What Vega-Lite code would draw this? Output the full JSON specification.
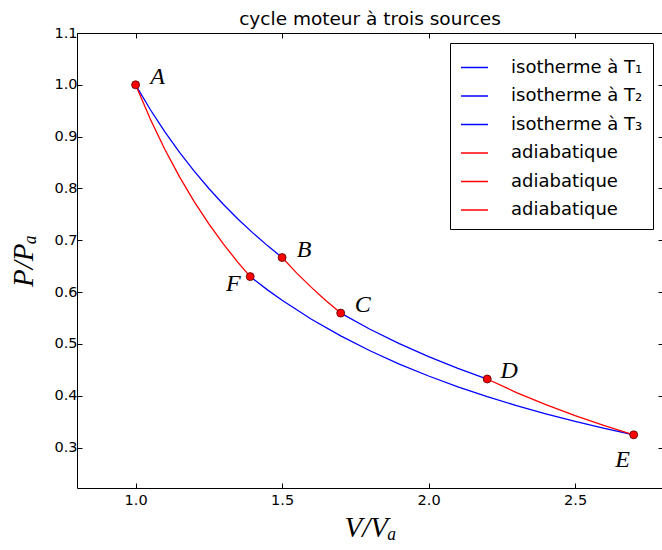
{
  "$schema": "https://vega.github.io/schema/vega-lite/v6.json",
  "autosize": {"type": "none"},
  "padding": {"left": 77, "top": 33, "right": 0, "bottom": 62},
  "width": 586,
  "height": 455,
  "background": "white",
  "title": {"text": "cycle moteur à trois sources", "font": "DejaVu Sans", "fontSize": 18.5, "fontWeight": "normal", "color": "black", "offset": -3, "anchor": "middle"},
  "config": {
    "view": {"stroke": "black", "strokeWidth": 1},
    "axis": {"grid": false, "domain": false, "tickColor": "black", "tickSize": -5, "labelFont": "DejaVu Sans", "labelFontSize": 14.5, "labelColor": "black", "titleFont": "Liberation Serif", "titleFontStyle": "italic", "titleFontWeight": "normal", "titleFontSize": 29, "titleColor": "black"},
    "legend": {"orient": "top-right", "offset": 10, "strokeColor": "black", "fillColor": "white", "padding": 10, "cornerRadius": 0, "symbolType": "stroke", "symbolSize": 729, "symbolStrokeWidth": 1.5, "labelFont": "DejaVu Sans", "labelFontSize": 18, "labelColor": "black", "labelOffset": 22, "rowPadding": 4.5, "labelLimit": 300}
  },
  "datasets": {
    "curves": [
      {"courbe": "isotherme à T₁", "V": 1.0, "P": 1.0},
      {"courbe": "isotherme à T₁", "V": 1.05, "P": 0.9524},
      {"courbe": "isotherme à T₁", "V": 1.1, "P": 0.9091},
      {"courbe": "isotherme à T₁", "V": 1.15, "P": 0.8696},
      {"courbe": "isotherme à T₁", "V": 1.2, "P": 0.8333},
      {"courbe": "isotherme à T₁", "V": 1.25, "P": 0.8},
      {"courbe": "isotherme à T₁", "V": 1.3, "P": 0.7692},
      {"courbe": "isotherme à T₁", "V": 1.35, "P": 0.7407},
      {"courbe": "isotherme à T₁", "V": 1.4, "P": 0.7143},
      {"courbe": "isotherme à T₁", "V": 1.45, "P": 0.6897},
      {"courbe": "isotherme à T₁", "V": 1.5, "P": 0.6667},
      {"courbe": "isotherme à T₂", "V": 1.7, "P": 0.5595},
      {"courbe": "isotherme à T₂", "V": 1.8, "P": 0.5284},
      {"courbe": "isotherme à T₂", "V": 1.9, "P": 0.5006},
      {"courbe": "isotherme à T₂", "V": 2.0, "P": 0.4756},
      {"courbe": "isotherme à T₂", "V": 2.1, "P": 0.4529},
      {"courbe": "isotherme à T₂", "V": 2.2, "P": 0.4323},
      {"courbe": "isotherme à T₃", "V": 1.3912, "P": 0.6299},
      {"courbe": "isotherme à T₃", "V": 1.45, "P": 0.6043},
      {"courbe": "isotherme à T₃", "V": 1.5, "P": 0.5842},
      {"courbe": "isotherme à T₃", "V": 1.6, "P": 0.5477},
      {"courbe": "isotherme à T₃", "V": 1.7, "P": 0.5155},
      {"courbe": "isotherme à T₃", "V": 1.8, "P": 0.4868},
      {"courbe": "isotherme à T₃", "V": 1.9, "P": 0.4612},
      {"courbe": "isotherme à T₃", "V": 2.0, "P": 0.4381},
      {"courbe": "isotherme à T₃", "V": 2.1, "P": 0.4173},
      {"courbe": "isotherme à T₃", "V": 2.2, "P": 0.3983},
      {"courbe": "isotherme à T₃", "V": 2.3, "P": 0.381},
      {"courbe": "isotherme à T₃", "V": 2.4, "P": 0.3651},
      {"courbe": "isotherme à T₃", "V": 2.5, "P": 0.3505},
      {"courbe": "isotherme à T₃", "V": 2.6, "P": 0.337},
      {"courbe": "isotherme à T₃", "V": 2.7, "P": 0.3246},
      {"courbe": "adiabatique (BC)", "V": 1.5, "P": 0.6667},
      {"courbe": "adiabatique (BC)", "V": 1.55, "P": 0.6367},
      {"courbe": "adiabatique (BC)", "V": 1.6, "P": 0.6091},
      {"courbe": "adiabatique (BC)", "V": 1.65, "P": 0.5834},
      {"courbe": "adiabatique (BC)", "V": 1.7, "P": 0.5595},
      {"courbe": "adiabatique (DE)", "V": 2.2, "P": 0.4323},
      {"courbe": "adiabatique (DE)", "V": 2.3, "P": 0.4062},
      {"courbe": "adiabatique (DE)", "V": 2.4, "P": 0.3828},
      {"courbe": "adiabatique (DE)", "V": 2.5, "P": 0.3615},
      {"courbe": "adiabatique (DE)", "V": 2.6, "P": 0.3422},
      {"courbe": "adiabatique (DE)", "V": 2.7, "P": 0.3246},
      {"courbe": "adiabatique (FA)", "V": 1.0, "P": 1.0},
      {"courbe": "adiabatique (FA)", "V": 1.05, "P": 0.934},
      {"courbe": "adiabatique (FA)", "V": 1.1, "P": 0.8751},
      {"courbe": "adiabatique (FA)", "V": 1.15, "P": 0.8223},
      {"courbe": "adiabatique (FA)", "V": 1.2, "P": 0.7747},
      {"courbe": "adiabatique (FA)", "V": 1.25, "P": 0.7317},
      {"courbe": "adiabatique (FA)", "V": 1.3, "P": 0.6926},
      {"courbe": "adiabatique (FA)", "V": 1.35, "P": 0.657},
      {"courbe": "adiabatique (FA)", "V": 1.3912, "P": 0.6299}
    ],
    "pts": [
      {"nom": "A", "V": 1.0, "P": 1.0},
      {"nom": "B", "V": 1.5, "P": 0.6667},
      {"nom": "C", "V": 1.7, "P": 0.5595},
      {"nom": "D", "V": 2.2, "P": 0.4323},
      {"nom": "E", "V": 2.7, "P": 0.3246},
      {"nom": "F", "V": 1.3912, "P": 0.6299}
    ]
  },
  "layer": [
    {
      "data": {"name": "curves"},
      "mark": {"type": "line", "strokeWidth": 1.3},
      "encoding": {
        "x": {"field": "V", "type": "quantitative", "scale": {"domain": [0.8, 2.8], "nice": false, "zero": false}, "axis": {"values": [1.0, 1.5, 2.0, 2.5], "format": ".1f", "title": "V/Vₐ", "labelPadding": 10, "titlePadding": 7}},
        "y": {"field": "P", "type": "quantitative", "scale": {"domain": [0.222, 1.1], "nice": false, "zero": false}, "axis": {"values": [0.3, 0.4, 0.5, 0.6, 0.7, 0.8, 0.9, 1.0, 1.1], "format": ".1f", "title": "P/Pₐ", "labelPadding": 5, "titlePadding": 15}},
        "color": {"field": "courbe", "type": "nominal", "scale": {"domain": ["isotherme à T₁", "isotherme à T₂", "isotherme à T₃", "adiabatique (BC)", "adiabatique (DE)", "adiabatique (FA)"], "range": ["#0000ff", "#0000ff", "#0000ff", "#ff0000", "#ff0000", "#ff0000"]}, "legend": {"title": null, "labelExpr": "split(datum.label, ' (')[0]"}}
      }
    },
    {
      "data": {"name": "pts"},
      "mark": {"type": "point", "filled": true, "shape": "circle", "size": 64, "fill": "#ff0000", "stroke": "#550000", "strokeWidth": 0.8, "opacity": 1},
      "encoding": {
        "x": {"field": "V", "type": "quantitative", "axis": {"orient": "top", "values": [1.0, 1.5, 2.0, 2.5], "labels": false, "title": null}},
        "y": {"field": "P", "type": "quantitative", "axis": {"orient": "right", "values": [0.3, 0.4, 0.5, 0.6, 0.7, 0.8, 0.9, 1.0, 1.1], "labels": false, "title": null}}
      }
    },
    {
      "data": {"name": "pts"},
      "transform": [{"filter": "indexof(['A','B','C','D'], datum.nom) >= 0"}],
      "mark": {"type": "text", "font": "Liberation Serif", "fontStyle": "italic", "fontSize": 24, "dx": 22, "dy": -8, "align": "center", "baseline": "middle", "color": "black"},
      "encoding": {"x": {"field": "V", "type": "quantitative", "axis": null}, "y": {"field": "P", "type": "quantitative", "axis": null}, "text": {"field": "nom"}}
    },
    {
      "data": {"name": "pts"},
      "transform": [{"filter": "datum.nom == 'E'"}],
      "mark": {"type": "text", "font": "Liberation Serif", "fontStyle": "italic", "fontSize": 24, "dx": -11, "dy": 25, "align": "center", "baseline": "middle", "color": "black"},
      "encoding": {"x": {"field": "V", "type": "quantitative", "axis": null}, "y": {"field": "P", "type": "quantitative", "axis": null}, "text": {"field": "nom"}}
    },
    {
      "data": {"name": "pts"},
      "transform": [{"filter": "datum.nom == 'F'"}],
      "mark": {"type": "text", "font": "Liberation Serif", "fontStyle": "italic", "fontSize": 24, "dx": -17, "dy": 7, "align": "center", "baseline": "middle", "color": "black"},
      "encoding": {"x": {"field": "V", "type": "quantitative", "axis": null}, "y": {"field": "P", "type": "quantitative", "axis": null}, "text": {"field": "nom"}}
    }
  ],
  "resolve": {"axis": {"x": "independent", "y": "independent"}}
}
